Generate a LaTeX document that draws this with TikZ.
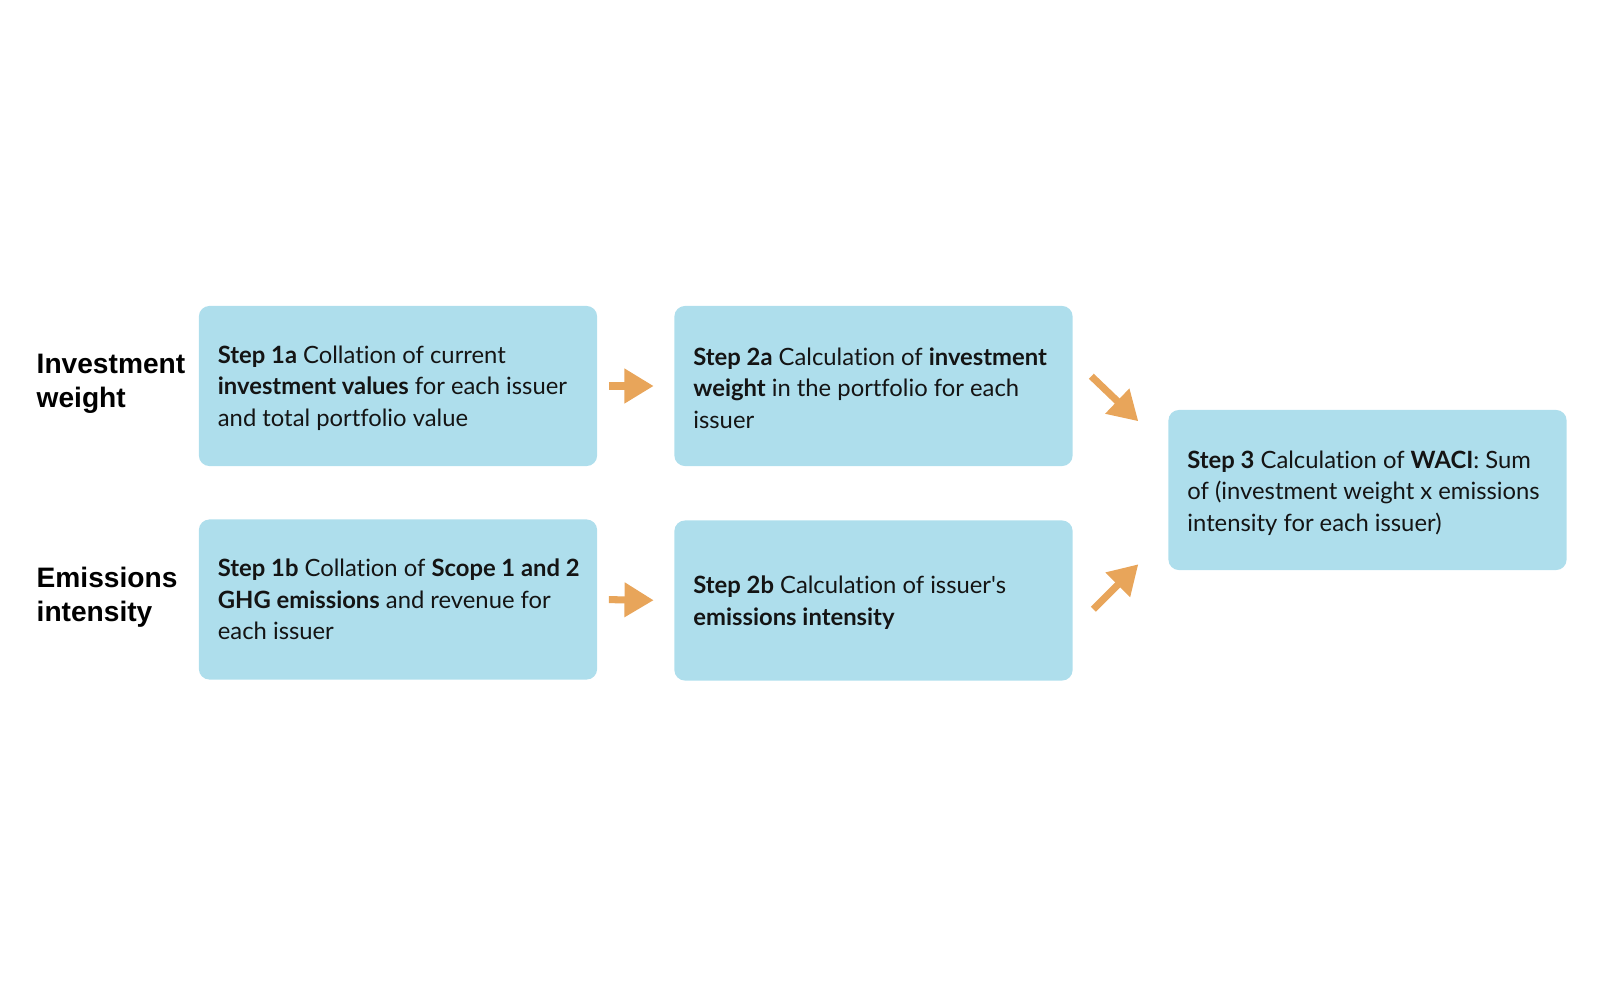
\documentclass[tikz,border=0pt]{standalone}
\usepackage{fontspec}
\newfontfamily\lato[Ligatures=NoCommon]{Lato}
\newfontfamily\labfont{Liberation Sans}
\usetikzlibrary{arrows.meta,calc}
\definecolor{boxblue}{HTML}{AEDEEC}
\definecolor{arrorange}{HTML}{E8A55A}
\definecolor{txt}{HTML}{141414}
\begin{document}
\begin{tikzpicture}[x=0.01cm,y=-0.01cm,
  stepbox/.style={fill=boxblue,draw=none,rounded corners=3pt,minimum width=3.98cm,minimum height=1.60cm,inner sep=0pt},
  steptext/.style={anchor=west,align=left,inner sep=0pt,text=txt,font=\lato\fontsize{6.77}{9}\selectfont},
  rowlabel/.style={anchor=west,align=left,inner sep=0pt,text=black,font=\labfont\bfseries\fontsize{8}{9.7}\selectfont},
  arr/.style={draw=arrorange,line width=2pt,-{Triangle[length=8.3pt,width=9.4pt]}}]
\useasboundingbox (0,0) rectangle (1600,1000);
% boxes
\node[stepbox] (s1a) at (398,386) {};
\node[stepbox] (s2a) at (873.5,386) {};
\node[stepbox] (s1b) at (398,599.5) {};
\node[stepbox] (s2b) at (873.5,600.5) {};
\node[stepbox] (s3) at (1367.5,490) {};
% texts
\node[steptext] (t1a) at ($(s1a.west)+(19,2)$) {\textbf{Step 1a} Collation of current\\\textbf{investment values} for each issuer\\and total portfolio value};
\node[steptext] (t2a) at ($(s2a.west)+(19,2)$) {\textbf{Step 2a} Calculation of \textbf{investment}\\\textbf{weight} in the portfolio for each\\issuer};
\node[steptext] (t1b) at ($(s1b.west)+(19,0)$) {\textbf{Step 1b} Collation of \textbf{Scope 1 and 2}\\\textbf{GHG emissions} and revenue for\\each issuer};
\node[steptext] (t2b) at ($(s2b.west)+(19,2)$) {\textbf{Step 2b} Calculation of issuer's\\\textbf{emissions intensity}};
\node[steptext] (t3) at ($(s3.west)+(19,3)$) {\textbf{Step 3} Calculation of \textbf{WACI}: Sum\\of (investment weight x emissions\\intensity for each issuer)};
% row labels
\node[rowlabel] (lw) at (36,384) {Investment\\weight};
\node[rowlabel] (li) at (36,597) {Emissions\\intensity};
% arrows
\draw[arr,shorten <=0.11cm,shorten >=0.20cm] (s1a.east) -- (s2a.west);
\draw[arr,shorten <=0.11cm,shorten >=0.20cm] (s1b.east) -- (s2b.west);
\coordinate (d1s) at ($(s2a.north east)+(18,71)$);
\coordinate (d1e) at ($(s2a.north east)+(65,116)$);
\coordinate (d2s) at ($(s2b.south east)+(20,-72)$);
\coordinate (d2e) at ($(s2b.south east)+(65,-117)$);
\draw[arr] (d1s) -- (d1e);
\draw[arr] (d2s) -- (d2e);
\end{tikzpicture}
\end{document}
